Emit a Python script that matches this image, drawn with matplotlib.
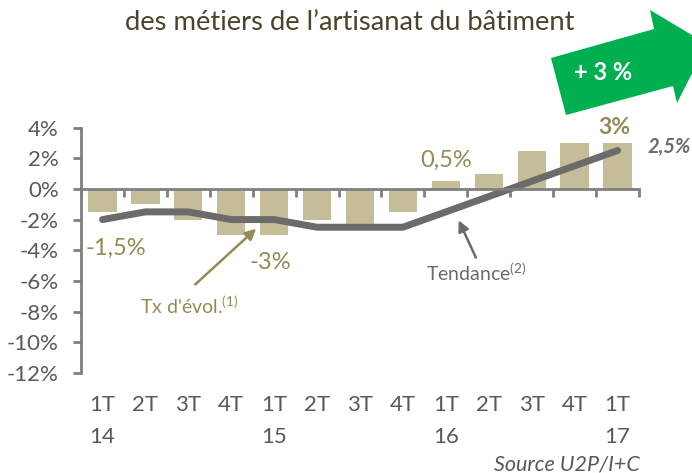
import matplotlib
matplotlib.use("Agg")
import matplotlib.pyplot as plt
import matplotlib.transforms as mtransforms
from matplotlib.patches import Polygon

plt.rcParams['font.family'] = ['Lato', 'DejaVu Sans']
plt.rcParams['mathtext.fontset'] = 'custom'
plt.rcParams['mathtext.rm'] = 'Lato'
plt.rcParams['mathtext.it'] = 'Lato:italic'
plt.rcParams['mathtext.bf'] = 'Lato:bold'

# ---- data ----
quarters = ["1T", "2T", "3T", "4T", "1T", "2T", "3T", "4T", "1T", "2T", "3T", "4T", "1T"]
years = ["14", "", "", "", "15", "", "", "", "16", "", "", "", "17"]
evolution = [-1.5, -1.0, -2.0, -3.0, -3.0, -2.0, -2.5, -1.5, 0.5, 1.0, 2.5, 3.0, 3.0]
tendance = [-2.0, -1.5, -1.5, -2.0, -2.0, -2.5, -2.5, -2.5, -1.5, -0.5, 0.5, 1.5, 2.5]
yticks = [4, 2, 0, -2, -4, -6, -8, -10, -12]
title = "des métiers de l\u2019artisanat du bâtiment"

BAR = "#C4BD97"
OLIVE = "#948A54"
LINE = "#6B6B6B"
TICK = "#595959"
GREEN = "#00B050"

W, H = 692, 473
fig = plt.figure(figsize=(W / 100, H / 100), dpi=100)
ax = fig.add_axes([81 / W, 1 - 373 / H, (639 - 81) / W, (373 - 127.5) / H])

x = list(range(len(evolution)))
ax.bar(x, evolution, width=0.66, color=BAR, zorder=2)
ax.plot(x, tendance, color=LINE, lw=5, solid_capstyle='round',
        solid_joinstyle='round', zorder=3)

ax.set_xlim(-0.5, len(x) - 0.5)
ax.set_ylim(-12, 4)

for s in ['top', 'right']:
    ax.spines[s].set_visible(False)
ax.spines['left'].set_color("#7F7F7F")
ax.spines['left'].set_linewidth(2)
ax.spines['bottom'].set_position(('data', 0))
ax.spines['bottom'].set_color("#7F7F7F")
ax.spines['bottom'].set_linewidth(2)
ax.spines['bottom'].set_zorder(4)

ax.set_yticks(yticks)
ax.set_yticklabels([f"{v}%" for v in yticks])
ax.tick_params(axis='y', colors="#7F7F7F", labelcolor=TICK, labelsize=16,
               length=6, width=2, direction='out', pad=10)
ax.set_xticks([i + 0.5 for i in range(-1, len(x))])
ax.set_xticklabels([])
ax.xaxis.set_ticks_position('bottom')
ax.tick_params(axis='x', colors="#7F7F7F", length=5.5, width=2, direction='out')

trans = mtransforms.blended_transform_factory(ax.transData, fig.transFigure)
for i, (q, yr) in enumerate(zip(quarters, years)):
    ax.text(i, 1 - 405 / H, q, transform=trans, ha='center', va='center',
            fontsize=16, color=TICK)
    if yr:
        ax.text(i, 1 - 437 / H, yr, transform=trans, ha='center', va='center',
                fontsize=16, color=TICK)

# value labels
ax.text(0.3, -3.9, "-1,5%", ha='center', va='center', fontsize=17, color=OLIVE)
ax.text(3.9, -4.8, "-3%", ha='center', va='center', fontsize=17, color=OLIVE)
ax.text(8.0, 1.85, "0,5%", ha='center', va='center', fontsize=17, color=OLIVE)
ax.text(11.93, 4.0, "3%", ha='center', va='center', fontsize=16.5, color=OLIVE,
        fontweight='bold')
ax.text(13.2, 2.7, "2,5%", ha='center', va='center', fontsize=14.5, color=LINE,
        fontweight='bold', style='italic', clip_on=False)

ax.text(2.02, -7.6, r"Tx d'évol.$^{\mathrm{(1)}}$", ha='center', va='center',
        fontsize=14, color=OLIVE)
ax.text(8.72, -5.45, r"Tendance$^{\mathrm{(2)}}$", ha='center', va='center',
        fontsize=14, color=LINE)

ax.annotate("", xy=(3.58, -2.6), xytext=(2.16, -6.23),
            arrowprops=dict(arrowstyle='-|>', color=OLIVE, lw=1.8,
                            mutation_scale=16, shrinkA=0, shrinkB=0), zorder=5)
ax.annotate("", xy=(8.3, -2.05), xytext=(8.7, -4.48),
            arrowprops=dict(arrowstyle='-|>', color=LINE, lw=1.8,
                            mutation_scale=16, shrinkA=0, shrinkB=0), zorder=5)

# title
fig.text(350 / W, 1 - 22 / H, title, ha='center', va='center', fontsize=19.7,
         color="#4A452A")

# green arrow
pts = [(551, 58), (654, 29), (650, 10), (707, 44), (677, 103), (673, 86), (566, 115)]
poly = Polygon([(px / W, 1 - py / H) for px, py in pts], closed=True,
               transform=fig.transFigure, facecolor=GREEN, edgecolor='none')
fig.patches.append(poly)
fig.text(603 / W, 1 - 73 / H, "+ 3 %", ha='center', va='center', fontsize=17,
         color='white', fontweight='bold')

fig.text(640 / W, 1 - 464 / H, "Source U2P/I+C", ha='right', va='center',
         fontsize=15.5, color=TICK, style='italic')

fig.savefig("out.png", dpi=100)
